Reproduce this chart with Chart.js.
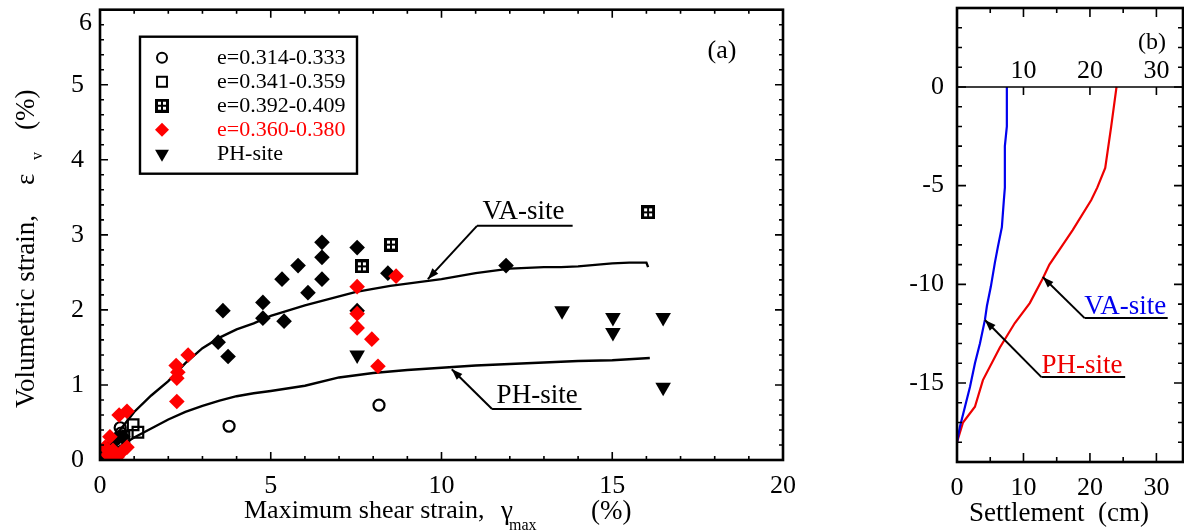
<!DOCTYPE html>
<html><head><meta charset="utf-8">
<script src="https://cdn.jsdelivr.net/npm/chart.js@4.4.1/dist/chart.umd.min.js"></script>
<style>
body{margin:0;width:1184px;height:531px;background:#fff;position:relative;overflow:hidden;}
canvas{position:absolute;top:0;}
#ca{left:0;}
#cb{left:880px;}
.t{position:absolute;font-family:"Liberation Serif",serif;font-size:27px;color:#000;white-space:nowrap;line-height:30px;}
.s{font-size:16px;line-height:16px;}
#yt{position:absolute;left:-140px;top:226px;width:330px;height:34px;transform:rotate(-90deg);}
#yt .t{top:2px;}
#yt .s{top:21px;}
</style></head><body>
<canvas id="ca" width="800" height="531"></canvas>
<canvas id="cb" width="304" height="531"></canvas>

<div class="t" style="left:244px;top:495px;font-size:26px">Maximum shear strain,</div>
<div class="t" style="left:501px;top:495px">γ</div>
<div class="t s" style="left:509px;top:517px">max</div>
<div class="t" style="left:591px;top:495px">(%)</div>

<div id="yt">
  <div class="t" style="left:0">Volumetric strain,</div>
  <div class="t" style="left:223px">ε</div>
  <div class="t s" style="left:248px">v</div>
  <div class="t" style="left:278px">(%)</div>
</div>

<div class="t" style="left:969px;top:497px">Settlement&nbsp;&nbsp;(cm)</div>

<script>
// ---------------- DATA ----------------
// Panel (a) tick labels
const xTicksA = [0, 5, 10, 15, 20];
const yTicksA = [0, 1, 2, 3, 4, 5, 6];
// Panel (b) tick labels
const xTicksB = [0, 10, 20, 30];
const xTopTicksB = [10, 20, 30];
const yTicksB = [-15, -10, -5, 0];

// e=0.314-0.333 (open circles)
const circX = [3.78, 8.17, 0.59, 0.62, 0.44, 0.22, 0.10];
const circY = [0.45, 0.73, 0.43, 0.36, 0.27, 0.15, 0.05];
// e=0.341-0.359 (open squares)
const sqX = [1.11, 0.97, 0.70, 0.50, 0.30, 0.15];
const sqY = [0.37, 0.47, 0.31, 0.24, 0.16, 0.09];
// e=0.392-0.409 (crossed squares)
const xsqX = [8.52, 7.67, 16.05];
const xsqY = [2.87, 2.58, 3.30];
// e=0.360-0.380 (red diamonds)
const redX = [2.58, 2.23, 2.28, 2.25, 2.25, 0.79, 0.56, 0.29, 0.79, 0.38, 0.23, 0.50, 0.64, 0.15, 8.67, 7.53, 7.53, 7.53, 7.96, 8.14];
const redY = [1.40, 1.26, 1.17, 1.09, 0.78, 0.65, 0.60, 0.31, 0.17, 0.13, 0.07, 0.04, 0.11, 0.17, 2.45, 2.31, 1.95, 1.76, 1.61, 1.25];
// PH-site (down triangles)
const phX = [7.53, 13.53, 15.02, 15.02, 16.49, 16.49];
const phY = [1.40, 1.99, 1.90, 1.70, 1.90, 0.97];
// black diamonds
const blkX = [6.50, 6.50, 6.50, 5.80, 5.33, 6.09, 4.77, 4.77, 5.39, 3.60, 3.46, 3.75, 7.53, 7.53, 8.43, 11.89, 0.67, 0.44, 0.29, 0.10];
const blkY = [2.90, 2.70, 2.41, 2.59, 2.41, 2.23, 2.10, 1.89, 1.85, 1.99, 1.57, 1.38, 2.83, 1.99, 2.49, 2.59, 0.31, 0.27, 0.17, 0.03];
// fitted curves
const vaCurveX = [0, 0.25, 0.5, 1, 1.5, 2, 2.5, 3, 3.5, 4, 4.5, 5, 5.5, 6, 6.5, 7, 7.5, 8, 8.5, 9, 9.5, 10, 10.5, 11, 11.5, 12, 12.5, 13, 13.5, 14, 14.5, 15, 15.5, 16, 16.05];
const vaCurveY = [0, 0.18, 0.35, 0.64, 0.86, 1.05, 1.29, 1.49, 1.63, 1.74, 1.82, 1.92, 1.99, 2.06, 2.12, 2.18, 2.24, 2.28, 2.32, 2.35, 2.38, 2.41, 2.45, 2.49, 2.52, 2.55, 2.56, 2.57, 2.57, 2.58, 2.60, 2.62, 2.63, 2.63, 2.57];
const phCurveX = [0, 0.5, 1, 1.5, 2, 2.5, 3, 3.5, 4, 4.5, 5, 6, 7, 8, 9, 10, 11, 12, 13, 14, 15, 16.1];
const phCurveY = [0, 0.16, 0.30, 0.42, 0.54, 0.64, 0.72, 0.79, 0.85, 0.89, 0.92, 0.99, 1.10, 1.16, 1.20, 1.23, 1.26, 1.28, 1.30, 1.32, 1.33, 1.36];

// Panel (b) settlement profiles
const vaSettle = [7.5, 7.5, 7.2, 7.2, 7.05, 6.75, 6.15, 5.7, 5.1, 4.5, 4.2, 3.45, 2.7, 1.95, 1.2, 0.45, 0];
const vaDepth  = [0, -2.0, -3.0, -5.1, -5.73, -7.1, -8.1, -8.9, -10.1, -11.1, -11.8, -13.0, -14.0, -15.2, -16.2, -17.2, -18.0];
const phSettle = [24.0, 23.2, 22.3, 21.1, 20.2, 17.4, 15.4, 13.9, 12.9, 10.95, 8.7, 6.45, 3.9, 2.7, 0.9, 0];
const phDepth  = [0, -2.0, -4.1, -5.1, -5.73, -7.25, -8.25, -9.0, -9.7, -10.95, -11.96, -13.2, -14.85, -16.2, -17.0, -18.0];

// ---------------- HELPERS ----------------
const pts = (xs, ys) => xs.map((x, i) => ({x: x, y: ys[i]}));
const FONT = '"Liberation Serif", serif';
Chart.defaults.font.family = FONT;
Chart.defaults.color = '#000';

// crossed-square marker
const xsq = document.createElement('canvas');
xsq.width = 14; xsq.height = 14;
(function () {
  const c = xsq.getContext('2d');
  c.fillStyle = '#000'; c.fillRect(0, 0, 14, 14);
  c.fillStyle = '#fff';
  c.fillRect(3, 3, 3, 3); c.fillRect(8, 3, 3, 3);
  c.fillRect(3, 8, 3, 3); c.fillRect(8, 8, 3, 3);
})();

function arrow(ctx, x1, y1, x2, y2) {
  ctx.beginPath(); ctx.moveTo(x1, y1); ctx.lineTo(x2, y2); ctx.stroke();
  const a = Math.atan2(y2 - y1, x2 - x1), L = 11, W = 4;
  ctx.beginPath(); ctx.moveTo(x2, y2);
  ctx.lineTo(x2 - L * Math.cos(a) + W * Math.sin(a), y2 - L * Math.sin(a) - W * Math.cos(a));
  ctx.lineTo(x2 - L * Math.cos(a) - W * Math.sin(a), y2 - L * Math.sin(a) + W * Math.cos(a));
  ctx.closePath(); ctx.fill();
}
function range(a, b, s) { const r = []; for (let v = a; v <= b + 1e-9; v += s) r.push(Math.round(v * 1000) / 1000); return r; }

function drawFrameTicks(chart, o) {
  const ctx = chart.ctx, ca = chart.chartArea, xs = chart.scales.x, ys = chart.scales.y;
  ctx.save();
  ctx.strokeStyle = '#000'; ctx.lineWidth = o.tickWidth;
  ctx.beginPath();
  o.xMinor.forEach(v => { const p = xs.getPixelForValue(v);
    ctx.moveTo(p, ca.bottom); ctx.lineTo(p, ca.bottom - o.minorLen);
    if (o.topTicks) { ctx.moveTo(p, ca.top); ctx.lineTo(p, ca.top + o.minorLen); } });
  o.xMajor.forEach(v => { const p = xs.getPixelForValue(v);
    ctx.moveTo(p, ca.bottom); ctx.lineTo(p, ca.bottom - o.majorLen);
    if (o.topTicks) { ctx.moveTo(p, ca.top); ctx.lineTo(p, ca.top + o.majorLen); } });
  o.yMinor.forEach(v => { const p = ys.getPixelForValue(v);
    ctx.moveTo(ca.left, p); ctx.lineTo(ca.left + o.minorLen, p);
    ctx.moveTo(ca.right, p); ctx.lineTo(ca.right - o.minorLen, p); });
  o.yMajor.forEach(v => { const p = ys.getPixelForValue(v);
    ctx.moveTo(ca.left, p); ctx.lineTo(ca.left + o.majorLen, p);
    ctx.moveTo(ca.right, p); ctx.lineTo(ca.right - o.majorLen, p); });
  ctx.stroke();
  ctx.lineWidth = o.frameWidth;
  ctx.strokeRect(ca.left, ca.top, ca.right - ca.left, ca.bottom - ca.top);
  ctx.restore();
}

// ---------------- PANEL (a) ----------------
const legendItems = [
  {text: 'e=0.314-0.333', color: '#000', style: 'circle', r: 5, fill: 'rgba(0,0,0,0)', bw: 2},
  {text: 'e=0.341-0.359', color: '#000', style: 'rect', r: 7, fill: 'rgba(0,0,0,0)', bw: 2},
  {text: 'e=0.392-0.409', color: '#000', style: xsq, r: 6, fill: '#000', bw: 0},
  {text: 'e=0.360-0.380', color: '#ff0000', style: 'rectRot', r: 7, fill: '#ff0000', bw: 0},
  {text: 'PH-site', color: '#000', style: 'triangle', r: 8, fill: '#000', bw: 0, rot: 180}
];

const annA = [
  {text: 'VA-site', tx: 12.4, ty: 3.30, x1: 11.04, x2: 13.84, yl: 3.12, tipX: 9.6, tipY: 2.41},
  {text: 'PH-site', tx: 12.8, ty: 0.86, x1: 11.48, x2: 14.1, yl: 0.68, tipX: 10.3, tipY: 1.21}
];

const panelA = {
  id: 'panelA',
  afterDraw(chart) {
    const ctx = chart.ctx, ca = chart.chartArea, xs = chart.scales.x, ys = chart.scales.y;
    drawFrameTicks(chart, {
      xMajor: xTicksA, xMinor: range(0, 20, 1), yMajor: yTicksA, yMinor: range(0, 6, 0.2),
      majorLen: 8, minorLen: 4, tickWidth: 1.6, frameWidth: 2.6, topTicks: true
    });
    ctx.save();
    // "6" label, placed just under the top edge
    ctx.font = '26px ' + FONT; ctx.fillStyle = '#000';
    ctx.textAlign = 'right'; ctx.textBaseline = 'middle';
    ctx.fillText('6', ca.left - 8, ys.getPixelForValue(6) + 13);
    // annotations
    ctx.strokeStyle = '#000'; ctx.fillStyle = '#000'; ctx.lineWidth = 2;
    annA.forEach(a => {
      const x1 = xs.getPixelForValue(a.x1), x2 = xs.getPixelForValue(a.x2), yl = ys.getPixelForValue(a.yl);
      ctx.beginPath(); ctx.moveTo(x1, yl); ctx.lineTo(x2, yl); ctx.stroke();
      arrow(ctx, x1, yl, xs.getPixelForValue(a.tipX), ys.getPixelForValue(a.tipY));
      ctx.font = '27px ' + FONT; ctx.textAlign = 'center'; ctx.textBaseline = 'middle';
      ctx.fillText(a.text, xs.getPixelForValue(a.tx), ys.getPixelForValue(a.ty));
    });
    ctx.font = '26px ' + FONT; ctx.textAlign = 'center';
    ctx.fillText('(a)', ca.left + 622, ca.top + 41);
    // legend box
    const bx = ca.left + 40, by = ca.top + 27, bw = 217, bh = 137;
    ctx.lineWidth = 2.4; ctx.strokeRect(bx, by, bw, bh);
    legendItems.forEach((it, i) => {
      const y = by + 21 + i * 24;
      ctx.fillStyle = it.fill; ctx.strokeStyle = '#000'; ctx.lineWidth = 2;
      Chart.helpers.drawPoint(ctx, {pointStyle: it.style, radius: it.r, borderWidth: it.bw, rotation: it.rot || 0}, bx + 22, y);
      ctx.fillStyle = it.color; ctx.font = '22px ' + FONT; ctx.textAlign = 'left';
      ctx.fillText(it.text, bx + 77, y + 1);
    });
    ctx.restore();
  }
};

new Chart(document.getElementById('ca'), {
  type: 'scatter',
  data: {
    datasets: [
      {label: 'e=0.360-0.380', data: pts(redX, redY), pointStyle: 'rectRot', pointRadius: 7.8, backgroundColor: '#ff0000', borderWidth: 0},
      {label: 'black', data: pts(blkX, blkY), pointStyle: 'rectRot', pointRadius: 7.8, backgroundColor: '#000', borderWidth: 0},
      {label: 'e=0.392-0.409', data: pts(xsqX, xsqY), pointStyle: xsq, pointRadius: 7},
      {label: 'e=0.314-0.333', data: pts(circX, circY), pointStyle: 'circle', pointRadius: 5.5, backgroundColor: 'rgba(0,0,0,0)', borderColor: '#000', borderWidth: 2.2},
      {label: 'e=0.341-0.359', data: pts(sqX, sqY), pointStyle: 'rect', pointRadius: 7.5, backgroundColor: 'rgba(0,0,0,0)', borderColor: '#000', borderWidth: 2.2},
      {label: 'PH-site', data: pts(phX, phY), pointStyle: 'triangle', rotation: 180, pointRadius: 9, backgroundColor: '#000', borderWidth: 0},
      {label: 'VA curve', data: pts(vaCurveX, vaCurveY), showLine: true, borderColor: '#000', borderWidth: 2.4, pointRadius: 0, tension: 0},
      {label: 'PH curve', data: pts(phCurveX, phCurveY), showLine: true, borderColor: '#000', borderWidth: 2.4, pointRadius: 0, tension: 0}
    ]
  },
  options: {
    responsive: false, animation: false, events: [],
    layout: {padding: {left: 0, right: 17, top: 9, bottom: 0}},
    plugins: {legend: {display: false}, tooltip: {enabled: false}},
    scales: {
      x: {type: 'linear', min: 0, max: 20, grid: {display: false}, border: {display: false},
        afterBuildTicks: s => { s.ticks = xTicksA.map(v => ({value: v})); },
        ticks: {padding: 3, font: {size: 26}, color: '#000', maxRotation: 0, autoSkip: false},
        afterFit: s => { s.height = 71; s.paddingLeft = 0; s.paddingRight = 0; }},
      y: {type: 'linear', min: 0, max: 6, grid: {display: false}, border: {display: false},
        afterBuildTicks: s => { s.ticks = yTicksA.map(v => ({value: v})); },
        ticks: {padding: 8, font: {size: 26}, color: '#000', autoSkip: false, callback: v => (v === 6 ? '' : v)},
        afterFit: s => { s.width = 100; s.paddingTop = 0; s.paddingBottom = 0; }}
    }
  },
  plugins: [panelA]
});

// ---------------- PANEL (b) ----------------
const annB = [
  {text: 'VA-site', color: '#0000ee', tx: 25.3, ty: -11.15, x1: 19.2, x2: 31.7, yl: -11.71, tipX: 12.9, tipY: -9.63},
  {text: 'PH-site', color: '#ee0000', tx: 18.8, ty: -14.15, x1: 12.7, x2: 25.3, yl: -14.7, tipX: 4.2, tipY: -11.81}
];

const panelB = {
  id: 'panelB',
  afterDraw(chart) {
    const ctx = chart.ctx, ca = chart.chartArea, xs = chart.scales.x, ys = chart.scales.y;
    drawFrameTicks(chart, {
      xMajor: [10, 20, 30], xMinor: [5, 15, 25], yMajor: [-15, -10, -5, 0], yMinor: range(-19, 4, 1),
      majorLen: 9, minorLen: 5, tickWidth: 1.6, frameWidth: 2.6, topTicks: true
    });
    ctx.save();
    const y0 = ys.getPixelForValue(0);
    ctx.strokeStyle = '#000'; ctx.lineWidth = 1.6;
    ctx.beginPath(); ctx.moveTo(ca.left, y0); ctx.lineTo(ca.right, y0);
    xTopTicksB.forEach(v => { const p = xs.getPixelForValue(v); ctx.moveTo(p, y0); ctx.lineTo(p, y0 + 8); });
    ctx.stroke();
    ctx.fillStyle = '#000'; ctx.font = '26px ' + FONT; ctx.textAlign = 'center'; ctx.textBaseline = 'middle';
    xTopTicksB.forEach(v => ctx.fillText(String(v), xs.getPixelForValue(v), y0 - 16));
    ctx.font = '24px ' + FONT;
    ctx.fillText('(b)', ca.left + 195, ca.top + 35);
    ctx.lineWidth = 2; ctx.strokeStyle = '#000';
    annB.forEach(a => {
      const x1 = xs.getPixelForValue(a.x1), x2 = xs.getPixelForValue(a.x2), yl = ys.getPixelForValue(a.yl);
      ctx.fillStyle = '#000';
      ctx.beginPath(); ctx.moveTo(x1, yl); ctx.lineTo(x2, yl); ctx.stroke();
      arrow(ctx, x1, yl, xs.getPixelForValue(a.tipX), ys.getPixelForValue(a.tipY));
      ctx.fillStyle = a.color; ctx.font = '27px ' + FONT;
      ctx.fillText(a.text, xs.getPixelForValue(a.tx), ys.getPixelForValue(a.ty));
    });
    ctx.restore();
  }
};

new Chart(document.getElementById('cb'), {
  type: 'scatter',
  data: {
    datasets: [
      {label: 'VA-site', data: pts(vaSettle, vaDepth), showLine: true, borderColor: '#0000ee', borderWidth: 2.2, pointRadius: 0, tension: 0},
      {label: 'PH-site', data: pts(phSettle, phDepth), showLine: true, borderColor: '#ee0000', borderWidth: 2.2, pointRadius: 0, tension: 0}
    ]
  },
  options: {
    responsive: false, animation: false, events: [],
    layout: {padding: {left: 0, right: 1, top: 8, bottom: 0}},
    plugins: {legend: {display: false}, tooltip: {enabled: false}},
    scales: {
      x: {type: 'linear', min: 0, max: 34, grid: {display: false}, border: {display: false},
        afterBuildTicks: s => { s.ticks = xTicksB.map(v => ({value: v})); },
        ticks: {padding: 3, font: {size: 26}, color: '#000', maxRotation: 0, autoSkip: false},
        afterFit: s => { s.height = 69; s.paddingLeft = 0; s.paddingRight = 0; }},
      y: {type: 'linear', min: -19, max: 4, grid: {display: false}, border: {display: false},
        afterBuildTicks: s => { s.ticks = yTicksB.map(v => ({value: v})); },
        ticks: {padding: 5, font: {size: 26}, color: '#000', autoSkip: false},
        afterFit: s => { s.width = 77; s.paddingTop = 0; s.paddingBottom = 0; }}
    }
  },
  plugins: [panelB]
});
</script>
</body></html>
